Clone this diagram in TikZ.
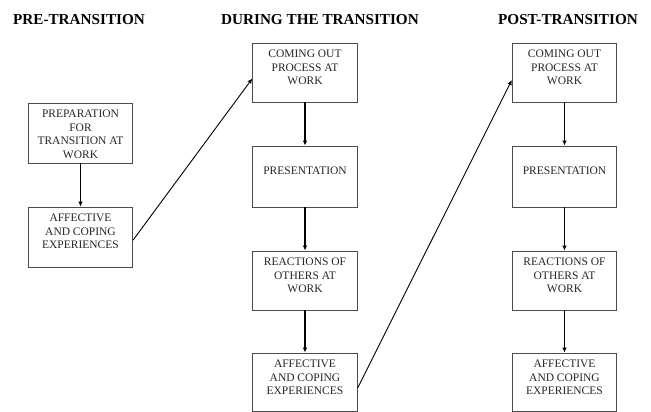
\documentclass[tikz,border=0pt]{standalone}
\usepackage{fontspec}
\setmainfont{Liberation Serif}
\usetikzlibrary{arrows.meta}
\begin{document}
\begin{tikzpicture}[x=1pt,y=-1pt,
  stagebox/.style={draw=black!70, line width=0.8pt, rectangle, inner sep=0pt, minimum width=104.5pt},
  boxtxt/.style={anchor=north, inner sep=0pt, align=center, text=black!85, font=\fontsize{11.5}{13.6}\selectfont},
  heading/.style={anchor=base, inner sep=0pt, font=\fontsize{15.2}{18}\selectfont\bfseries},
  flow/.style={line width=1.1pt, -{Latex[length=5pt,width=4.5pt]}},
  diag/.style={line width=0.9pt, -{Latex[length=5pt,width=4.5pt]}}]
\useasboundingbox (0,0) rectangle (651,412);

% headings
\node[heading] (hpre) at (79,25) {PRE-TRANSITION};
\node[heading] (hdur) at (320,25) {DURING THE TRANSITION};
\node[heading] (hpost) at (568,25) {POST-TRANSITION};

% left column
\node[stagebox, minimum height=60pt] (l1) at (80.5,133) {};
\node[stagebox, minimum height=60pt] (l2) at (80.5,237) {};
% middle column
\node[stagebox, minimum height=59pt] (m1) at (305,72.5) {};
\node[stagebox, minimum height=61pt] (m2) at (305,176.5) {};
\node[stagebox, minimum height=59pt] (m3) at (305,280.5) {};
\node[stagebox, minimum height=58pt] (m4) at (305,382) {};
% right column
\node[stagebox, minimum height=59pt] (r1) at (564.5,72.5) {};
\node[stagebox, minimum height=61pt] (r2) at (564.5,176.5) {};
\node[stagebox, minimum height=59pt] (r3) at (564.5,280.5) {};
\node[stagebox, minimum height=58pt] (r4) at (564.5,382) {};

% texts
\node[boxtxt] (l1t) at ([yshift=-7pt]l1.north) {PREPARATION\\FOR\\TRANSITION AT\\WORK};
\node[boxtxt] (l2t) at ([yshift=-7pt]l2.north) {AFFECTIVE\\AND COPING\\EXPERIENCES};
\node[boxtxt] (m1t) at ([yshift=-7pt]m1.north) {COMING OUT\\PROCESS AT\\WORK};
\node[boxtxt] (m2t) at ([yshift=-21pt]m2.north) {PRESENTATION};
\node[boxtxt] (m3t) at ([yshift=-7pt]m3.north) {REACTIONS OF\\OTHERS AT\\WORK};
\node[boxtxt] (m4t) at ([yshift=-7pt]m4.north) {AFFECTIVE\\AND COPING\\EXPERIENCES};
\node[boxtxt] (r1t) at ([yshift=-7pt]r1.north) {COMING OUT\\PROCESS AT\\WORK};
\node[boxtxt] (r2t) at ([yshift=-21pt]r2.north) {PRESENTATION};
\node[boxtxt] (r3t) at ([yshift=-7pt]r3.north) {REACTIONS OF\\OTHERS AT\\WORK};
\node[boxtxt] (r4t) at ([yshift=-7pt]r4.north) {AFFECTIVE\\AND COPING\\EXPERIENCES};

% vertical arrows
\draw[flow] (l1.south) -- (l2.north);
\draw[flow] (m1.south) -- (m2.north);
\draw[flow] (m2.south) -- (m3.north);
\draw[flow] (m3.south) -- (m4.north);
\draw[flow] (r1.south) -- (r2.north);
\draw[flow] (r2.south) -- (r3.north);
\draw[flow] (r3.south) -- (r4.north);

% diagonal arrows
\draw[diag] ([yshift=-3pt]l2.east) -- ([yshift=-6pt]m1.west);
\draw[diag] ([yshift=-6pt]m4.east) -- ([yshift=-7.5pt]r1.west);
\end{tikzpicture}
\end{document}
